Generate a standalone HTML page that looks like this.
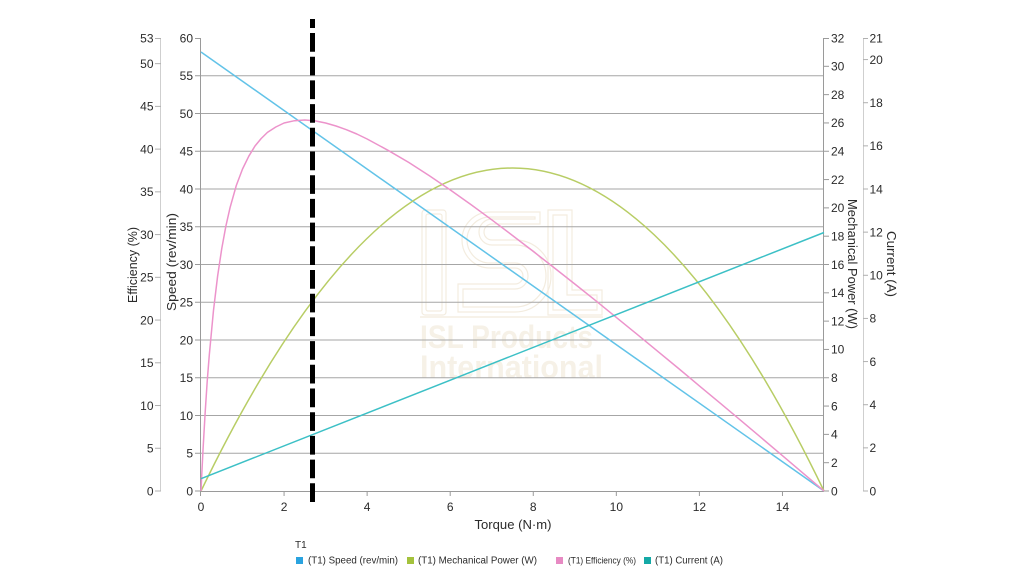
<!DOCTYPE html>
<html>
<head>
<meta charset="utf-8">
<style>
  html,body{margin:0;padding:0;background:#fff;}
  svg{display:block;}
  text{font-family:"Liberation Sans", Arial, sans-serif;fill:#2b2b2b;}
</style>
</head>
<body>
<svg width="1024" height="585" viewBox="0 0 1024 585" xmlns="http://www.w3.org/2000/svg">
  <rect width="1024" height="585" fill="#fff"/>

  <!-- Watermark -->
  <g fill="none" stroke="#f3ecdf" stroke-width="1.2">
    <rect x="422" y="210" width="24" height="105" rx="3"/>
    <rect x="426" y="214" width="16" height="97" rx="2"/>
    <path d="M540 212 H490 a28 28 0 0 0 0 56 H515 a8 8 0 0 1 0 16 H458 V312 H515 a36 36 0 0 0 0 -72 H492 a8 8 0 0 1 0 -16 H540 Z"/>
    <path d="M535 217 H490 a23 23 0 0 0 0 46 H515 a13 13 0 0 1 0 26 H463 V307 H515 a31 31 0 0 0 0 -62 H492 a13 13 0 0 1 0 -26 H535 Z"/>
    <path d="M548 210 H572 V290 H602 V315 H548 Z"/>
    <path d="M553 215 H567 V295 H597 V310 H553 Z"/>
  </g>
  <rect x="420" y="316" width="183" height="2" fill="#f7f2e9"/>
  <text x="420" y="348" font-size="32" font-weight="bold" textLength="173" lengthAdjust="spacingAndGlyphs" style="fill:#f6f1e7">ISL Products</text>
  <text x="420" y="378" font-size="32" font-weight="bold" textLength="183" lengthAdjust="spacingAndGlyphs" style="fill:#f6f1e7">International</text>

  <!-- Gridlines (speed) -->
  <g stroke="#a6a6a6" stroke-width="1">
    <line x1="201" x2="824" y1="453.25" y2="453.25"/>
    <line x1="201" x2="824" y1="415.5" y2="415.5"/>
    <line x1="201" x2="824" y1="377.75" y2="377.75"/>
    <line x1="201" x2="824" y1="340" y2="340"/>
    <line x1="201" x2="824" y1="302.25" y2="302.25"/>
    <line x1="201" x2="824" y1="264.5" y2="264.5"/>
    <line x1="201" x2="824" y1="226.75" y2="226.75"/>
    <line x1="201" x2="824" y1="189" y2="189"/>
    <line x1="201" x2="824" y1="151.25" y2="151.25"/>
    <line x1="201" x2="824" y1="113.5" y2="113.5"/>
    <line x1="201" x2="824" y1="75.75" y2="75.75"/>
  </g>

  <!-- Efficiency axis -->
  <g stroke="#cfcfcf" stroke-width="1">
    <line x1="160.5" x2="160.5" y1="38" y2="491"/>
  </g>
  <g stroke="#b0b0b0" stroke-width="1">
    <line x1="155" x2="161" y1="491" y2="491"/>
    <line x1="155" x2="161" y1="448.26" y2="448.26"/>
    <line x1="155" x2="161" y1="405.53" y2="405.53"/>
    <line x1="155" x2="161" y1="362.79" y2="362.79"/>
    <line x1="155" x2="161" y1="320.06" y2="320.06"/>
    <line x1="155" x2="161" y1="277.32" y2="277.32"/>
    <line x1="155" x2="161" y1="234.58" y2="234.58"/>
    <line x1="155" x2="161" y1="191.85" y2="191.85"/>
    <line x1="155" x2="161" y1="149.11" y2="149.11"/>
    <line x1="155" x2="161" y1="106.38" y2="106.38"/>
    <line x1="155" x2="161" y1="63.64" y2="63.64"/>
    <line x1="155" x2="161" y1="38.5" y2="38.5"/>
  </g>
  <g font-size="12" text-anchor="end">
    <text x="153.5" y="495.3">0</text>
    <text x="153.5" y="452.6">5</text>
    <text x="153.5" y="409.8">10</text>
    <text x="153.5" y="367.1">15</text>
    <text x="153.5" y="324.4">20</text>
    <text x="153.5" y="281.6">25</text>
    <text x="153.5" y="238.9">30</text>
    <text x="153.5" y="196.2">35</text>
    <text x="153.5" y="153.4">40</text>
    <text x="153.5" y="110.7">45</text>
    <text x="153.5" y="67.9">50</text>
    <text x="153.5" y="42.3">53</text>
  </g>
  <text transform="translate(137,265) rotate(-90)" font-size="12.5" text-anchor="middle" textLength="76" lengthAdjust="spacingAndGlyphs">Efficiency (%)</text>

  <!-- Speed axis -->
  <g stroke="#9a9a9a" stroke-width="1">
    <line x1="200.5" x2="200.5" y1="38" y2="491"/>
    <line x1="195" x2="201" y1="491" y2="491"/>
    <line x1="195" x2="201" y1="453.25" y2="453.25"/>
    <line x1="195" x2="201" y1="415.5" y2="415.5"/>
    <line x1="195" x2="201" y1="377.75" y2="377.75"/>
    <line x1="195" x2="201" y1="340" y2="340"/>
    <line x1="195" x2="201" y1="302.25" y2="302.25"/>
    <line x1="195" x2="201" y1="264.5" y2="264.5"/>
    <line x1="195" x2="201" y1="226.75" y2="226.75"/>
    <line x1="195" x2="201" y1="189" y2="189"/>
    <line x1="195" x2="201" y1="151.25" y2="151.25"/>
    <line x1="195" x2="201" y1="113.5" y2="113.5"/>
    <line x1="195" x2="201" y1="75.75" y2="75.75"/>
    <line x1="195" x2="201" y1="38.5" y2="38.5"/>
  </g>
  <g font-size="12" text-anchor="end">
    <text x="193" y="495.3">0</text>
    <text x="193" y="457.5">5</text>
    <text x="193" y="419.8">10</text>
    <text x="193" y="382">15</text>
    <text x="193" y="344.3">20</text>
    <text x="193" y="306.5">25</text>
    <text x="193" y="268.8">30</text>
    <text x="193" y="231">35</text>
    <text x="193" y="193.3">40</text>
    <text x="193" y="155.5">45</text>
    <text x="193" y="117.8">50</text>
    <text x="193" y="80">55</text>
    <text x="193" y="42.3">60</text>
  </g>
  <text transform="translate(176,262) rotate(-90)" font-size="12.5" text-anchor="middle" textLength="98" lengthAdjust="spacingAndGlyphs">Speed (rev/min)</text>

  <!-- Power axis -->
  <g stroke="#9a9a9a" stroke-width="1">
    <line x1="823.5" x2="823.5" y1="38" y2="491"/>
    <line x1="824" x2="829" y1="491" y2="491"/>
    <line x1="824" x2="829" y1="462.69" y2="462.69"/>
    <line x1="824" x2="829" y1="434.38" y2="434.38"/>
    <line x1="824" x2="829" y1="406.06" y2="406.06"/>
    <line x1="824" x2="829" y1="377.75" y2="377.75"/>
    <line x1="824" x2="829" y1="349.44" y2="349.44"/>
    <line x1="824" x2="829" y1="321.13" y2="321.13"/>
    <line x1="824" x2="829" y1="292.81" y2="292.81"/>
    <line x1="824" x2="829" y1="264.5" y2="264.5"/>
    <line x1="824" x2="829" y1="236.19" y2="236.19"/>
    <line x1="824" x2="829" y1="207.88" y2="207.88"/>
    <line x1="824" x2="829" y1="179.56" y2="179.56"/>
    <line x1="824" x2="829" y1="151.25" y2="151.25"/>
    <line x1="824" x2="829" y1="122.94" y2="122.94"/>
    <line x1="824" x2="829" y1="94.63" y2="94.63"/>
    <line x1="824" x2="829" y1="66.31" y2="66.31"/>
    <line x1="824" x2="829" y1="38.5" y2="38.5"/>
  </g>
  <g font-size="12" text-anchor="start">
    <text x="831" y="495.3">0</text>
    <text x="831" y="467">2</text>
    <text x="831" y="438.7">4</text>
    <text x="831" y="410.4">6</text>
    <text x="831" y="382">8</text>
    <text x="831" y="353.7">10</text>
    <text x="831" y="325.4">12</text>
    <text x="831" y="297.1">14</text>
    <text x="831" y="268.8">16</text>
    <text x="831" y="240.5">18</text>
    <text x="831" y="212.2">20</text>
    <text x="831" y="183.9">22</text>
    <text x="831" y="155.5">24</text>
    <text x="831" y="127.2">26</text>
    <text x="831" y="98.9">28</text>
    <text x="831" y="70.6">30</text>
    <text x="831" y="42.3">32</text>
  </g>
  <text transform="translate(848,264) rotate(90)" font-size="12.5" text-anchor="middle" textLength="130" lengthAdjust="spacingAndGlyphs">Mechanical Power (W)</text>

  <!-- Current axis -->
  <g stroke="#cfcfcf" stroke-width="1">
    <line x1="863.5" x2="863.5" y1="38" y2="491"/>
  </g>
  <g stroke="#b0b0b0" stroke-width="1">
    <line x1="863" x2="868" y1="491" y2="491"/>
    <line x1="863" x2="868" y1="447.86" y2="447.86"/>
    <line x1="863" x2="868" y1="404.71" y2="404.71"/>
    <line x1="863" x2="868" y1="361.57" y2="361.57"/>
    <line x1="863" x2="868" y1="318.43" y2="318.43"/>
    <line x1="863" x2="868" y1="275.29" y2="275.29"/>
    <line x1="863" x2="868" y1="232.14" y2="232.14"/>
    <line x1="863" x2="868" y1="189" y2="189"/>
    <line x1="863" x2="868" y1="145.86" y2="145.86"/>
    <line x1="863" x2="868" y1="102.71" y2="102.71"/>
    <line x1="863" x2="868" y1="59.57" y2="59.57"/>
    <line x1="863" x2="868" y1="38.5" y2="38.5"/>
  </g>
  <g font-size="12" text-anchor="start">
    <text x="869.5" y="495.3">0</text>
    <text x="869.5" y="452.2">2</text>
    <text x="869.5" y="409">4</text>
    <text x="869.5" y="365.9">6</text>
    <text x="869.5" y="322.7">8</text>
    <text x="869.5" y="279.6">10</text>
    <text x="869.5" y="236.4">12</text>
    <text x="869.5" y="193.3">14</text>
    <text x="869.5" y="150.2">16</text>
    <text x="869.5" y="107">18</text>
    <text x="869.5" y="63.9">20</text>
    <text x="869.5" y="42.3">21</text>
  </g>
  <text transform="translate(887,264) rotate(90)" font-size="12.5" text-anchor="middle" textLength="66" lengthAdjust="spacingAndGlyphs">Current (A)</text>

  <!-- X axis -->
  <g stroke="#9a9a9a" stroke-width="1">
    <line x1="200" x2="824" y1="491.5" y2="491.5"/>
    <line x1="200.5" x2="200.5" y1="491" y2="496"/>
    <line x1="284.07" x2="284.07" y1="491" y2="496"/>
    <line x1="367.13" x2="367.13" y1="491" y2="496"/>
    <line x1="450.2" x2="450.2" y1="491" y2="496"/>
    <line x1="533.27" x2="533.27" y1="491" y2="496"/>
    <line x1="616.33" x2="616.33" y1="491" y2="496"/>
    <line x1="699.4" x2="699.4" y1="491" y2="496"/>
    <line x1="782.47" x2="782.47" y1="491" y2="496"/>
  </g>
  <g font-size="12" text-anchor="middle">
    <text x="201" y="511">0</text>
    <text x="284.07" y="511">2</text>
    <text x="367.13" y="511">4</text>
    <text x="450.2" y="511">6</text>
    <text x="533.27" y="511">8</text>
    <text x="616.33" y="511">10</text>
    <text x="699.4" y="511">12</text>
    <text x="782.47" y="511">14</text>
  </g>
  <text x="513" y="529" font-size="12.5" text-anchor="middle" textLength="77" lengthAdjust="spacingAndGlyphs">Torque (N·m)</text>

  <!-- Series -->
  <line x1="201" y1="52" x2="824" y2="491" stroke="#62c3e8" stroke-width="1.5"/>
  <path d="M201 491 Q512.5 -155 824 491" fill="none" stroke="#b8cd65" stroke-width="1.5"/>
  <polyline fill="none" stroke="#ec93cb" stroke-width="1.5" stroke-linejoin="round"
    points="201,491 201.42,482 201.83,473.2 203.08,448.7 205.15,412.7 207.23,381 209.31,354.8 213.46,310.7 217.61,276.1 221.77,248.5 225.9,226 230.07,207.6 236.3,185.5 242.53,169 248.8,156.2 255,146 261.2,138.5 267.45,132.4 275.8,127 284.07,123 294.5,120.7 304.83,120 315.2,120.9 325.6,123 336,126 346.37,129.7 356.8,134 367.13,139 388,150.3 408.67,162.4 429.4,175.8 450.2,189.9 471,204.6 491.73,219.8 512.5,235.5 533.27,251.4 554,267.6 574.8,284 595.6,300.6 616.33,317.4 637.1,334.3 657.87,351.4 678.6,368.5 699.4,385.9 720.2,403.2 740.93,420.6 761.7,438.1 782.47,455.7 803.2,473.3 824,491"/>
  <line x1="201" y1="478.7" x2="824" y2="232.5" stroke="#3cc0c6" stroke-width="1.5"/>

  <!-- Dashed marker -->
  <line x1="312.5" y1="19" x2="312.5" y2="502" stroke="#000" stroke-width="5" stroke-dasharray="18.7 5" stroke-dashoffset="9.7"/>

  <!-- Legend -->
  <text x="295" y="548" font-size="10">T1</text>
  <rect x="296" y="557" width="7" height="7" fill="#2aa3df"/>
  <text x="308" y="563.5" font-size="10" textLength="90" lengthAdjust="spacingAndGlyphs">(T1) Speed (rev/min)</text>
  <rect x="407" y="557" width="7" height="7" fill="#a4c23c"/>
  <text x="418" y="563.5" font-size="10" textLength="119" lengthAdjust="spacingAndGlyphs">(T1) Mechanical Power (W)</text>
  <rect x="556" y="557" width="7" height="7" fill="#e78ac3"/>
  <text x="568" y="563.5" font-size="9" textLength="68" lengthAdjust="spacingAndGlyphs">(T1) Efficiency (%)</text>
  <rect x="644" y="557" width="7" height="7" fill="#14a9a6"/>
  <text x="655" y="563.5" font-size="10" textLength="68" lengthAdjust="spacingAndGlyphs">(T1) Current (A)</text>
</svg>
</body>
</html>
